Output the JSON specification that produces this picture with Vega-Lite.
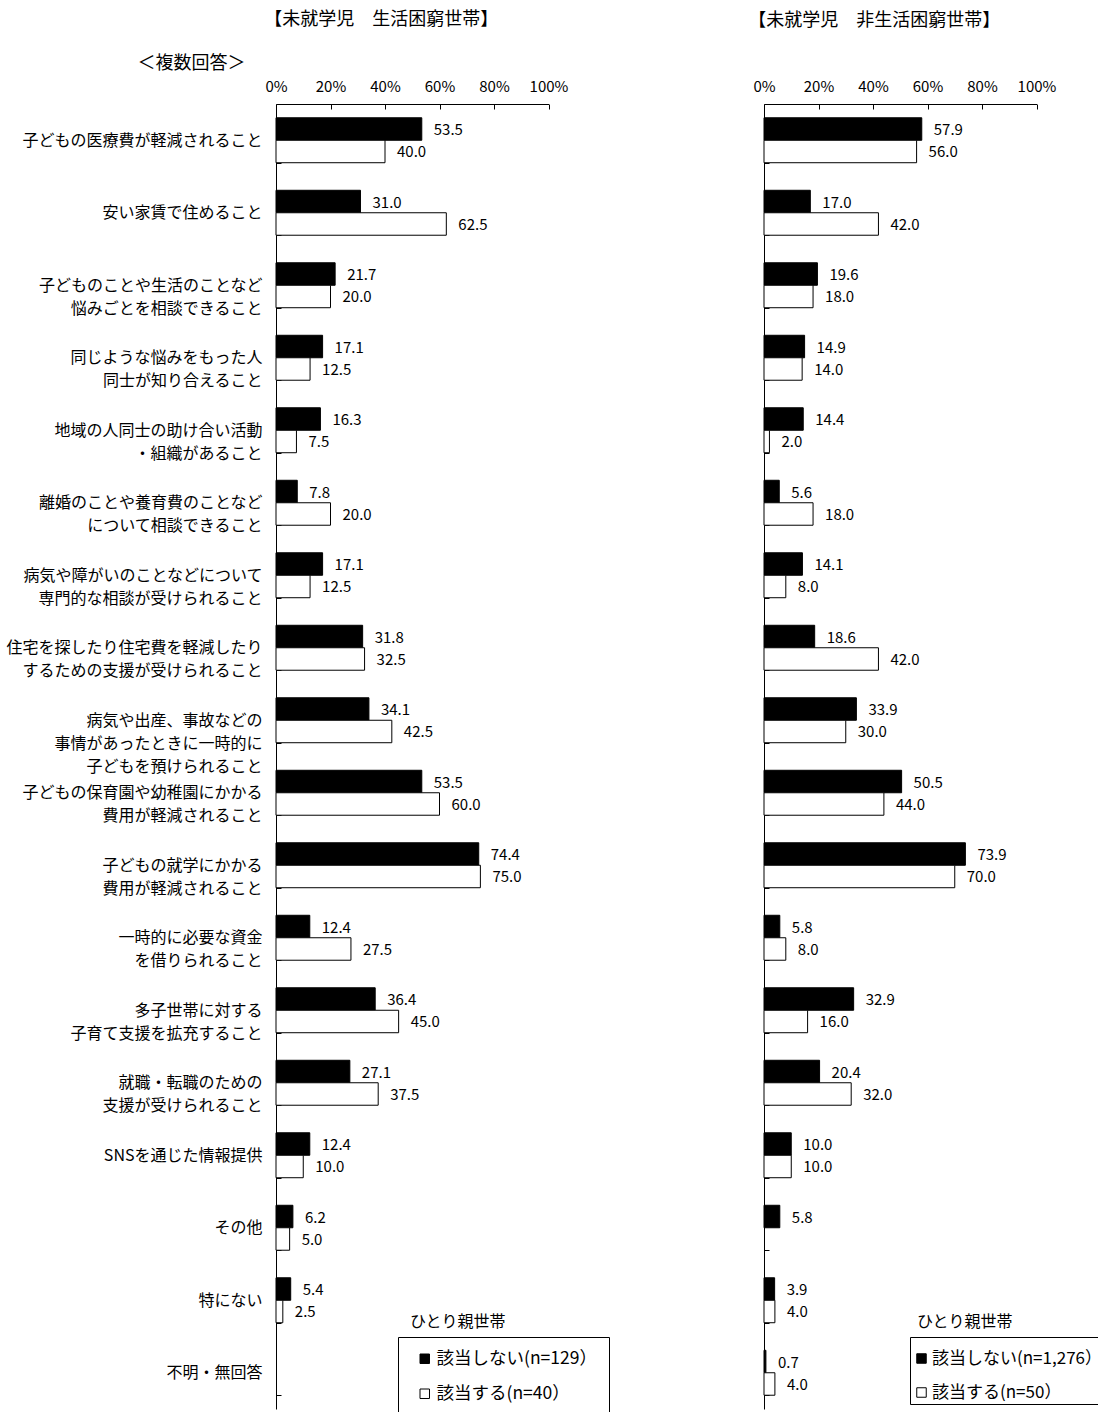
{
  "$schema": "https://vega.github.io/schema/vega-lite/v6.json",
  "padding": {"left": 5, "top": 11, "right": 0, "bottom": 0},
  "background": "#ffffff",
  "config": {
    "font": "Noto Sans CJK JP",
    "view": {"stroke": null},
    "axis": {"domainColor": "#000000", "tickColor": "#000000", "labelColor": "#000000", "titleColor": "#000000", "grid": false, "labelFont": "Noto Sans CJK JP", "titleFont": "Noto Sans CJK JP"},
    "title": {"fontSize": 18, "fontWeight": "normal", "color": "#000000", "font": "Noto Sans CJK JP"},
    "legend": {"labelFont": "Noto Sans CJK JP", "titleFont": "Noto Sans CJK JP"}
  },
  "datasets": {
    "left": [
      {"item": "子どもの医療費が軽減されること", "group": "該当しない(n=129）", "value": 53.5},
      {"item": "子どもの医療費が軽減されること", "group": "該当する(n=40）", "value": 40.0},
      {"item": "安い家賃で住めること", "group": "該当しない(n=129）", "value": 31.0},
      {"item": "安い家賃で住めること", "group": "該当する(n=40）", "value": 62.5},
      {"item": "子どものことや生活のことなど\n悩みごとを相談できること", "group": "該当しない(n=129）", "value": 21.7},
      {"item": "子どものことや生活のことなど\n悩みごとを相談できること", "group": "該当する(n=40）", "value": 20.0},
      {"item": "同じような悩みをもった人\n同士が知り合えること", "group": "該当しない(n=129）", "value": 17.1},
      {"item": "同じような悩みをもった人\n同士が知り合えること", "group": "該当する(n=40）", "value": 12.5},
      {"item": "地域の人同士の助け合い活動\n・組織があること", "group": "該当しない(n=129）", "value": 16.3},
      {"item": "地域の人同士の助け合い活動\n・組織があること", "group": "該当する(n=40）", "value": 7.5},
      {"item": "離婚のことや養育費のことなど\nについて相談できること", "group": "該当しない(n=129）", "value": 7.8},
      {"item": "離婚のことや養育費のことなど\nについて相談できること", "group": "該当する(n=40）", "value": 20.0},
      {"item": "病気や障がいのことなどについて\n専門的な相談が受けられること", "group": "該当しない(n=129）", "value": 17.1},
      {"item": "病気や障がいのことなどについて\n専門的な相談が受けられること", "group": "該当する(n=40）", "value": 12.5},
      {"item": "住宅を探したり住宅費を軽減したり\nするための支援が受けられること", "group": "該当しない(n=129）", "value": 31.8},
      {"item": "住宅を探したり住宅費を軽減したり\nするための支援が受けられること", "group": "該当する(n=40）", "value": 32.5},
      {"item": "病気や出産、事故などの\n事情があったときに一時的に\n子どもを預けられること", "group": "該当しない(n=129）", "value": 34.1},
      {"item": "病気や出産、事故などの\n事情があったときに一時的に\n子どもを預けられること", "group": "該当する(n=40）", "value": 42.5},
      {"item": "子どもの保育園や幼稚園にかかる\n費用が軽減されること", "group": "該当しない(n=129）", "value": 53.5},
      {"item": "子どもの保育園や幼稚園にかかる\n費用が軽減されること", "group": "該当する(n=40）", "value": 60.0},
      {"item": "子どもの就学にかかる\n費用が軽減されること", "group": "該当しない(n=129）", "value": 74.4},
      {"item": "子どもの就学にかかる\n費用が軽減されること", "group": "該当する(n=40）", "value": 75.0},
      {"item": "一時的に必要な資金\nを借りられること", "group": "該当しない(n=129）", "value": 12.4},
      {"item": "一時的に必要な資金\nを借りられること", "group": "該当する(n=40）", "value": 27.5},
      {"item": "多子世帯に対する\n子育て支援を拡充すること", "group": "該当しない(n=129）", "value": 36.4},
      {"item": "多子世帯に対する\n子育て支援を拡充すること", "group": "該当する(n=40）", "value": 45.0},
      {"item": "就職・転職のための\n支援が受けられること", "group": "該当しない(n=129）", "value": 27.1},
      {"item": "就職・転職のための\n支援が受けられること", "group": "該当する(n=40）", "value": 37.5},
      {"item": "SNSを通じた情報提供", "group": "該当しない(n=129）", "value": 12.4},
      {"item": "SNSを通じた情報提供", "group": "該当する(n=40）", "value": 10.0},
      {"item": "その他", "group": "該当しない(n=129）", "value": 6.2},
      {"item": "その他", "group": "該当する(n=40）", "value": 5.0},
      {"item": "特にない", "group": "該当しない(n=129）", "value": 5.4},
      {"item": "特にない", "group": "該当する(n=40）", "value": 2.5},
      {"item": "不明・無回答", "group": "該当しない(n=129）", "value": 0},
      {"item": "不明・無回答", "group": "該当する(n=40）", "value": 0}
    ],
    "right": [
      {"item": "子どもの医療費が軽減されること", "group": "該当しない(n=1,276）", "value": 57.9},
      {"item": "子どもの医療費が軽減されること", "group": "該当する(n=50）", "value": 56.0},
      {"item": "安い家賃で住めること", "group": "該当しない(n=1,276）", "value": 17.0},
      {"item": "安い家賃で住めること", "group": "該当する(n=50）", "value": 42.0},
      {"item": "子どものことや生活のことなど\n悩みごとを相談できること", "group": "該当しない(n=1,276）", "value": 19.6},
      {"item": "子どものことや生活のことなど\n悩みごとを相談できること", "group": "該当する(n=50）", "value": 18.0},
      {"item": "同じような悩みをもった人\n同士が知り合えること", "group": "該当しない(n=1,276）", "value": 14.9},
      {"item": "同じような悩みをもった人\n同士が知り合えること", "group": "該当する(n=50）", "value": 14.0},
      {"item": "地域の人同士の助け合い活動\n・組織があること", "group": "該当しない(n=1,276）", "value": 14.4},
      {"item": "地域の人同士の助け合い活動\n・組織があること", "group": "該当する(n=50）", "value": 2.0},
      {"item": "離婚のことや養育費のことなど\nについて相談できること", "group": "該当しない(n=1,276）", "value": 5.6},
      {"item": "離婚のことや養育費のことなど\nについて相談できること", "group": "該当する(n=50）", "value": 18.0},
      {"item": "病気や障がいのことなどについて\n専門的な相談が受けられること", "group": "該当しない(n=1,276）", "value": 14.1},
      {"item": "病気や障がいのことなどについて\n専門的な相談が受けられること", "group": "該当する(n=50）", "value": 8.0},
      {"item": "住宅を探したり住宅費を軽減したり\nするための支援が受けられること", "group": "該当しない(n=1,276）", "value": 18.6},
      {"item": "住宅を探したり住宅費を軽減したり\nするための支援が受けられること", "group": "該当する(n=50）", "value": 42.0},
      {"item": "病気や出産、事故などの\n事情があったときに一時的に\n子どもを預けられること", "group": "該当しない(n=1,276）", "value": 33.9},
      {"item": "病気や出産、事故などの\n事情があったときに一時的に\n子どもを預けられること", "group": "該当する(n=50）", "value": 30.0},
      {"item": "子どもの保育園や幼稚園にかかる\n費用が軽減されること", "group": "該当しない(n=1,276）", "value": 50.5},
      {"item": "子どもの保育園や幼稚園にかかる\n費用が軽減されること", "group": "該当する(n=50）", "value": 44.0},
      {"item": "子どもの就学にかかる\n費用が軽減されること", "group": "該当しない(n=1,276）", "value": 73.9},
      {"item": "子どもの就学にかかる\n費用が軽減されること", "group": "該当する(n=50）", "value": 70.0},
      {"item": "一時的に必要な資金\nを借りられること", "group": "該当しない(n=1,276）", "value": 5.8},
      {"item": "一時的に必要な資金\nを借りられること", "group": "該当する(n=50）", "value": 8.0},
      {"item": "多子世帯に対する\n子育て支援を拡充すること", "group": "該当しない(n=1,276）", "value": 32.9},
      {"item": "多子世帯に対する\n子育て支援を拡充すること", "group": "該当する(n=50）", "value": 16.0},
      {"item": "就職・転職のための\n支援が受けられること", "group": "該当しない(n=1,276）", "value": 20.4},
      {"item": "就職・転職のための\n支援が受けられること", "group": "該当する(n=50）", "value": 32.0},
      {"item": "SNSを通じた情報提供", "group": "該当しない(n=1,276）", "value": 10.0},
      {"item": "SNSを通じた情報提供", "group": "該当する(n=50）", "value": 10.0},
      {"item": "その他", "group": "該当しない(n=1,276）", "value": 5.8},
      {"item": "その他", "group": "該当する(n=50）", "value": 0},
      {"item": "特にない", "group": "該当しない(n=1,276）", "value": 3.9},
      {"item": "特にない", "group": "該当する(n=50）", "value": 4.0},
      {"item": "不明・無回答", "group": "該当しない(n=1,276）", "value": 0.7},
      {"item": "不明・無回答", "group": "該当する(n=50）", "value": 4.0}
    ]
  },
  "spacing": 138,
  "resolve": {"scale": {"fill": "independent", "y": "independent", "yOffset": "independent"}, "legend": {"fill": "independent"}},
  "hconcat": [
    {
      "width": 272.5,
      "height": 1305,
      "title": {"text": "【未就学児　生活困窮世帯】", "frame": "group", "anchor": "middle", "dx": -31, "offset": 25},
      "data": {"name": "left"},
      "encoding": {
        "y": {"field": "item", "type": "nominal", "sort": null,
          "scale": {"paddingInner": 0.38, "paddingOuter": 0.19},
          "axis": {"title": null, "tickBand": "extent", "tickSize": -5, "labelPadding": 19, "labelExpr": "split(datum.label, '\\n')", "labelLineHeight": 23, "labelFontSize": 16, "labelLimit": 400, "labelAlign": "right", "labelBaseline": "middle"}},
        "yOffset": {"field": "group", "type": "nominal", "sort": null},
        "x": {"field": "value", "type": "quantitative", "scale": {"domain": [0, 100]},
          "axis": {"orient": "top", "values": [0, 20, 40, 60, 80, 100], "labelExpr": "datum.value + '%'", "tickSize": -5, "labelPadding": 15, "labelFontSize": 15, "labelFlush": false,
            "title": "＜複数回答＞", "titleX": -85, "titleY": -41, "titleFontSize": 18, "titleFontWeight": "normal", "titleAlign": "center", "titleBaseline": "middle", "titleAngle": 0}}
      },
      "layer": [
        {"mark": {"type": "bar", "stroke": "#000000"},
          "encoding": {
            "strokeWidth": {"condition": {"test": "datum.value <= 0", "value": 0}, "value": 1},
            "fill": {"field": "group", "type": "nominal", "sort": null, "scale": {"range": ["#000000", "#ffffff"]},
            "legend": {"orient": "none", "legendX": 122, "legendY": 1233, "title": "ひとり親世帯", "titleFontSize": 16, "titleFontWeight": "normal", "titleColor": "#000000", "labelFontSize": 17.5, "labelColor": "#000000", "strokeColor": "#000000", "padding": 12, "symbolType": "square", "symbolSize": 90, "symbolOffset": 6, "symbolStrokeColor": "#000000", "symbolStrokeWidth": 1, "rowPadding": 16, "labelOffset": 3, "titlePadding": -15, "labelLimit": 400,
              "encode": {"title": {"update": {"dy": {"value": -35}}}}}}}},
        {"transform": [{"filter": "datum.value > 0"}],
          "mark": {"type": "text", "align": "left", "baseline": "middle", "dx": 12, "dy": 1, "fontSize": 15, "color": "#000000"},
          "encoding": {"text": {"field": "value", "type": "quantitative", "format": ".1f"}}}
      ]
    },
    {
      "width": 272.5,
      "height": 1305,
      "title": {"text": "【未就学児　非生活困窮世帯】", "frame": "group", "anchor": "middle", "dx": -26, "offset": 49},
      "data": {"name": "right"},
      "encoding": {
        "y": {"field": "item", "type": "nominal", "sort": null,
          "scale": {"paddingInner": 0.38, "paddingOuter": 0.19},
          "axis": {"title": null, "tickBand": "extent", "tickSize": -5, "labels": false}},
        "yOffset": {"field": "group", "type": "nominal", "sort": null},
        "x": {"field": "value", "type": "quantitative", "scale": {"domain": [0, 100]},
          "axis": {"orient": "top", "values": [0, 20, 40, 60, 80, 100], "labelExpr": "datum.value + '%'", "tickSize": -5, "labelPadding": 15, "labelFontSize": 15, "labelFlush": false, "title": null}}
      },
      "layer": [
        {"mark": {"type": "bar", "stroke": "#000000"},
          "encoding": {
            "strokeWidth": {"condition": {"test": "datum.value <= 0", "value": 0}, "value": 1},
            "fill": {"field": "group", "type": "nominal", "sort": null, "scale": {"range": ["#000000", "#ffffff"]},
            "legend": {"orient": "none", "legendX": 146, "legendY": 1233, "title": "ひとり親世帯", "titleFontSize": 16, "titleFontWeight": "normal", "titleColor": "#000000", "labelFontSize": 17, "labelColor": "#000000", "strokeColor": "#000000", "padding": 3, "symbolType": "square", "symbolSize": 90, "symbolOffset": 0, "symbolStrokeColor": "#000000", "symbolStrokeWidth": 1, "rowPadding": 16, "labelOffset": 2, "titlePadding": -6, "labelLimit": 400,
              "encode": {"title": {"update": {"dy": {"value": -26}, "dx": {"value": 4}}}}}}}},
        {"transform": [{"filter": "datum.value > 0"}],
          "mark": {"type": "text", "align": "left", "baseline": "middle", "dx": 12, "dy": 1, "fontSize": 15, "color": "#000000"},
          "encoding": {"text": {"field": "value", "type": "quantitative", "format": ".1f"}}}
      ]
    }
  ]
}
